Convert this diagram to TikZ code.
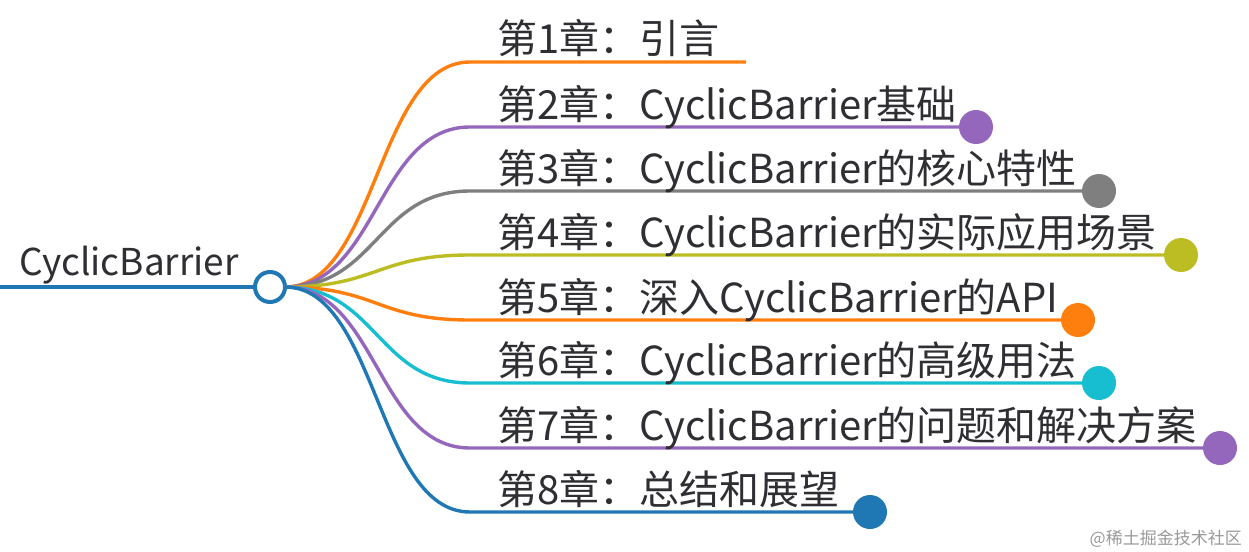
\documentclass[tikz,border=0pt]{standalone}
\usepackage{fontspec}
\setmainfont{Noto Sans CJK SC}
\begin{document}
\begin{tikzpicture}[x=1pt,y=-1pt,
  lbl/.style={anchor=base west,inner sep=0pt,text=txtgray,font=\fontsize{40}{40}\selectfont},
  branch/.style={line width=3.4pt},
  enddot/.style={circle,inner sep=0pt,minimum size=34pt,fill=#1}]
\definecolor{txtgray}{HTML}{2E2E33}
\definecolor{cblue}{HTML}{1F77B4}
\definecolor{corange}{HTML}{FF7F0E}
\definecolor{cpurple}{HTML}{9467BD}
\definecolor{cgray}{HTML}{7F7F7F}
\definecolor{colive}{HTML}{BCBD22}
\definecolor{ccyan}{HTML}{17BECF}
\useasboundingbox (0,0) rectangle (1249,551);
\fill[white] (0,0) rectangle (1249,551);
% root
\coordinate (rl) at (0,287);
\node[circle,draw=cblue,line width=4pt,fill=white,minimum size=30pt,inner sep=0pt] (root) at (270,287) {};
\draw[cblue,line width=4pt] (rl) -- (root.west);
\node[lbl,font=\fontsize{37}{37}\selectfont] (roottxt) at (19,275) {CyclicBarrier};
\coordinate (s) at (285,287);
% branches
\foreach \y/\c/\xe/\t/\n in {
  62/corange/746/{第1章：引言}/1,
  127/cpurple/976/{第2章：CyclicBarrier基础}/2,
  191/cgray/1099/{第3章：CyclicBarrier的核心特性}/3,
  255/colive/1181/{第4章：CyclicBarrier的实际应用场景}/4,
  320/corange/1078/{第5章：深入CyclicBarrier的API}/5,
  383/ccyan/1099/{第6章：CyclicBarrier的高级用法}/6,
  448/cpurple/1220/{第7章：CyclicBarrier的问题和解决方案}/7,
  512/cblue/870/{第8章：总结和展望}/8}{
  \coordinate (b\n) at (470,\y);
  \coordinate (e\n) at (\xe,\y);
  \draw[branch,\c] (s) .. controls (377,287) and (377,\y) .. (b\n) -- (e\n);
  \node[lbl] (t\n) at (497,\y-8) {\t};
}
\foreach \n/\c in {2/cpurple,3/cgray,4/colive,5/corange,6/ccyan,7/cpurple,8/cblue}{
  \node[enddot=\c] (d\n) at (e\n) {};
}
\node[anchor=base east,inner sep=0pt,text=black!40,font=\fontsize{17}{17}\selectfont] (wm) at (1242,544) {@稀土掘金技术社区};
\end{tikzpicture}
\end{document}
